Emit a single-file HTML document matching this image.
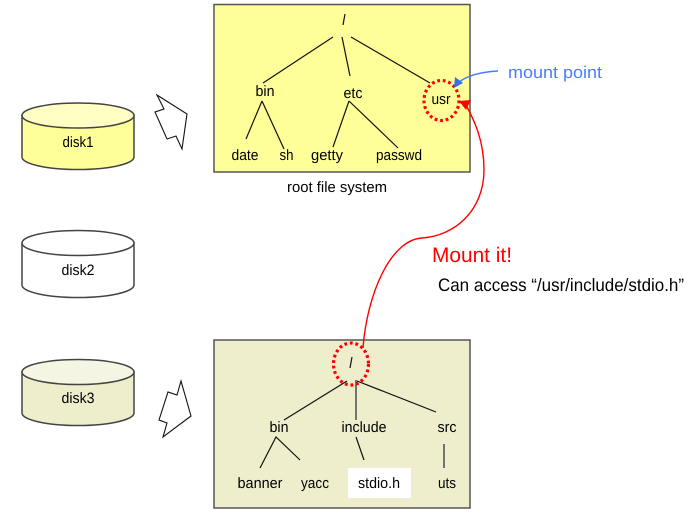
<!DOCTYPE html>
<html>
<head>
<meta charset="utf-8">
<style>
html,body{margin:0;padding:0;background:#fff;width:689px;height:523px;overflow:hidden}
svg{display:block}
text{font-family:"Liberation Sans",sans-serif;font-size:15px;fill:#000;text-anchor:middle;text-rendering:geometricPrecision}
.l{stroke:#111;stroke-width:1.2;fill:none}
.d{stroke:#444;stroke-width:1.5}
</style>
</head>
<body>
<svg width="689" height="523" viewBox="0 0 689 523" xmlns="http://www.w3.org/2000/svg">
<!-- disks -->
<path class="d" fill="#ffff99" d="M22,115 V157 A56,12.5 0 0 0 134,157 V115 Z"/>
<ellipse class="d" cx="78" cy="115.500" rx="56" ry="12.500" fill="#ffffc4"/>
<text x="78" y="147" textLength="31" lengthAdjust="spacingAndGlyphs">disk1</text>

<path class="d" fill="#fff" d="M22,243 V285 A56,12.5 0 0 0 134,285 V243 Z"/>
<ellipse class="d" cx="78" cy="243" rx="56" ry="12.500" fill="#fff"/>
<text x="78" y="275" textLength="33" lengthAdjust="spacingAndGlyphs">disk2</text>

<path class="d" fill="#eeeecc" d="M22,372 V413 A56,12.5 0 0 0 134,413 V372 Z"/>
<ellipse class="d" cx="78" cy="372" rx="56" ry="12.500" fill="#f5f5e4"/>
<text x="78" y="403" textLength="33" lengthAdjust="spacingAndGlyphs">disk3</text>

<!-- block arrows -->
<polygon fill="#fff" stroke="#111" stroke-width="1.100" points="157,95 187,114 182,149 176,136 167,139 155,112 164,109"/>
<polygon fill="#fff" stroke="#111" stroke-width="1.100" points="181,381 191,416 163,437 167,423 159,420 168,392 177,395"/>

<!-- root fs -->
<rect x="214" y="4.500" width="256" height="167.500" fill="#ffff99" stroke="#555" stroke-width="1.500"/>
<path class="l" d="M345,14 L343,25"/>
<path class="l" d="M333,37 L263,83 M342,37 L350,76 M351,37 L430,83"/>
<path class="l" d="M262,101 L246,139 M262,101 L284,149 M349,101 L333,147 M349,101 L398,148"/>
<text x="265" y="96" textLength="19" lengthAdjust="spacingAndGlyphs">bin</text>
<text x="353" y="98" textLength="19" lengthAdjust="spacingAndGlyphs">etc</text>
<text x="441" y="104" textLength="19" lengthAdjust="spacingAndGlyphs">usr</text>
<text x="245" y="160" textLength="27" lengthAdjust="spacingAndGlyphs">date</text>
<text x="286.500" y="160" textLength="14" lengthAdjust="spacingAndGlyphs">sh</text>
<text x="327" y="160" textLength="32" lengthAdjust="spacingAndGlyphs">getty</text>
<text x="399" y="160" textLength="46" lengthAdjust="spacingAndGlyphs">passwd</text>
<ellipse cx="441.500" cy="100.500" rx="17.500" ry="20" fill="none" stroke="#ff0000" stroke-width="3.200" stroke-dasharray="2.800 2.800"/>
<text x="337" y="192" textLength="100" lengthAdjust="spacingAndGlyphs">root file system</text>

<!-- disk3 fs -->
<rect x="214" y="340" width="256" height="168" fill="#eeeecc" stroke="#555" stroke-width="1.500"/>
<rect x="348" y="468" width="63" height="30" fill="#fff"/>
<path class="l" d="M352,357 L350,368"/>
<path class="l" d="M347,381 L284,420 M357,381 L436,412 M260,468 L276,437 L300,460 M356,437 L364,460"/>
<path stroke="#555" stroke-width="1.600" fill="none" d="M356,380 V420 M444,444 V468"/>
<text x="279" y="432" textLength="19" lengthAdjust="spacingAndGlyphs">bin</text>
<text x="364" y="432" textLength="45" lengthAdjust="spacingAndGlyphs">include</text>
<text x="447" y="432" textLength="19" lengthAdjust="spacingAndGlyphs">src</text>
<text x="260" y="488" textLength="45" lengthAdjust="spacingAndGlyphs">banner</text>
<text x="315" y="488" textLength="28" lengthAdjust="spacingAndGlyphs">yacc</text>
<text x="379" y="488" textLength="42" lengthAdjust="spacingAndGlyphs">stdio.h</text>
<text x="447" y="488" textLength="18" lengthAdjust="spacingAndGlyphs">uts</text>

<!-- red curve -->
<path fill="none" stroke="#ff0000" stroke-width="1.400" d="M363,348 C367,295 390,240 422,238 C455,236 484,210 484,170 C484,140 474,120 466,105"/>
<polygon fill="#ff0000" points="459,101 471,100 466,110"/>
<ellipse cx="351" cy="364" rx="17.500" ry="21" fill="none" stroke="#ff0000" stroke-width="3.200" stroke-dasharray="2.800 2.800"/>

<!-- blue arrow -->
<path fill="none" stroke="#4a7cff" stroke-width="1.500" d="M498,71 C480,72 466,76 458,83"/>
<polygon fill="#3a6cf0" points="454,88 455,77 463,83"/>

<!-- labels -->
<text x="508" y="78" style="text-anchor:start;font-size:17px;fill:#4a7cff" textLength="94" lengthAdjust="spacingAndGlyphs">mount point</text>
<text x="432" y="262" style="text-anchor:start;font-size:21px;fill:#ff0000" textLength="80" lengthAdjust="spacingAndGlyphs">Mount it!</text>
<text x="438" y="291" style="text-anchor:start;font-size:18px" textLength="246" lengthAdjust="spacingAndGlyphs">Can access “/usr/include/stdio.h”</text>
</svg>
</body>
</html>
